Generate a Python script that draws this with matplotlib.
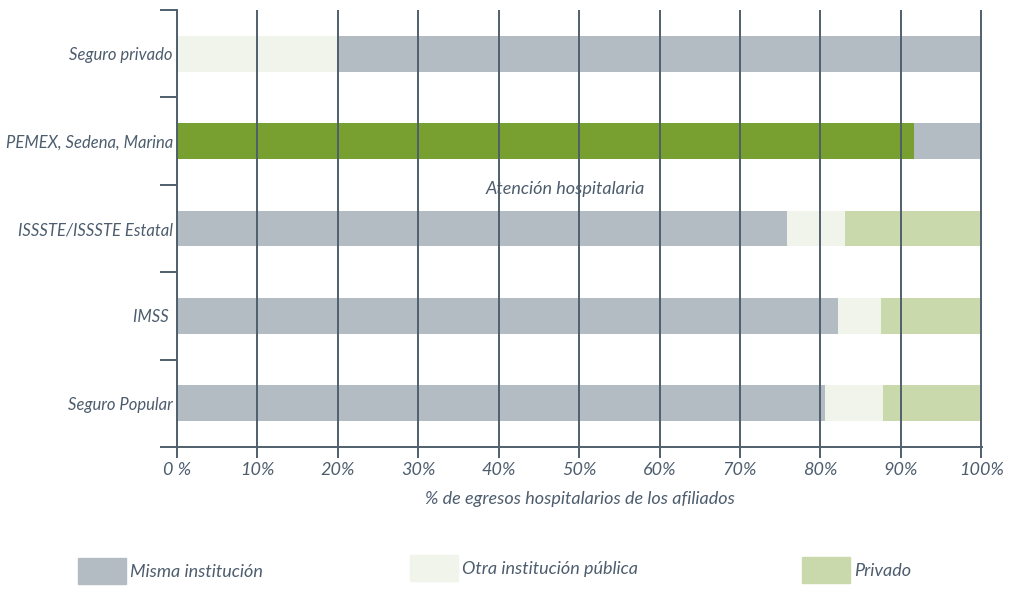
import numpy as np
import matplotlib.pyplot as plt
import matplotlib
from matplotlib.patches import Rectangle

matplotlib.rcParams['font.family'] = ['Lato', 'DejaVu Sans']
matplotlib.rcParams['font.style'] = 'italic'

categorias = ['Seguro Popular', 'IMSS ', 'ISSSTE/ISSSTE Estatal',
              'PEMEX, Sedena, Marina', 'Seguro privado']
# % de egresos, por segmento (de izquierda a derecha)
seg1 = [80.6, 82.2, 75.8, 91.7, 19.9]
seg2 = [7.2, 5.3, 7.3, 8.3, 80.1]
seg3 = [12.2, 12.5, 16.9, 0.0, 0.0]
colores1 = ['#b3bcc3', '#b3bcc3', '#b3bcc3', '#78a030', '#f1f4ea']
colores2 = ['#f1f4ea', '#f1f4ea', '#f1f4ea', '#b3bcc3', '#b3bcc3']
colores3 = ['#cad9ac'] * 5

ticks_x = np.arange(0, 101, 10)
etiquetas_x = ['0 %'] + ['%d%%' % t for t in ticks_x[1:]]
leyenda = ['Misma institución', 'Otra institución pública', 'Privado']
colores_leyenda = ['#b3bcc3', '#f1f4ea', '#cad9ac']

texto = '#4d5d6e'
linea = '#4f5f6d'
fs = 13

fig = plt.figure(figsize=(10.17, 5.92), dpi=100)
ax = fig.add_axes([0.174, 0.245, 0.7916, 0.738])

y = np.arange(len(categorias))
h = 0.41
ax.barh(y, seg1, height=h, color=colores1, zorder=1)
ax.barh(y, seg2, left=seg1, height=h, color=colores2, zorder=1)
ax.barh(y, seg3, left=np.array(seg1) + np.array(seg2), height=h, color=colores3, zorder=1)

for t in ticks_x:
    ax.axvline(t, color=linea, lw=1.4, zorder=3)

ax.set_xlim(0, 100.1)
ax.set_ylim(-0.5, 4.5)

ax.set_xticks(ticks_x)
ax.set_xticklabels(etiquetas_x, fontsize=fs, color=texto)
ax.tick_params(axis='x', direction='out', length=8, width=1.4, color=linea, pad=3)

ax.set_yticks(np.arange(-0.5, 5, 1))
ax.set_yticklabels([])
ax.set_yticks(y, minor=True)
ax.set_yticklabels(categorias, minor=True, fontsize=12, color=texto)
ax.tick_params(axis='y', which='major', direction='out', length=12, width=1.4, color=linea)
ax.tick_params(axis='y', which='minor', length=0, pad=3)

for s in ['top', 'right']:
    ax.spines[s].set_visible(False)
for s in ['left', 'bottom']:
    ax.spines[s].set_color(linea)
    ax.spines[s].set_linewidth(1.4)

ax.set_xlabel('% de egresos hospitalarios de los afiliados', fontsize=fs,
              color=texto, labelpad=9)

ax.text(48.3, 2.45, 'Atención hospitalaria', ha='center', va='center',
        fontsize=fs, color=texto)

# leyenda manual
pos_x = [78, 410, 802]
pos_y = [558, 555, 557]
for px, py, lab, c in zip(pos_x, pos_y, leyenda, colores_leyenda):
    fig.add_artist(Rectangle((px / 1017, 1 - (py + 26) / 592), 48 / 1017, 26 / 592,
                             transform=fig.transFigure, color=c))
    fig.text((px + 52) / 1017, 1 - (py + 14) / 592, lab, fontsize=fs,
             color=texto, va='center', ha='left')

plt.savefig('out.png', dpi=100)
